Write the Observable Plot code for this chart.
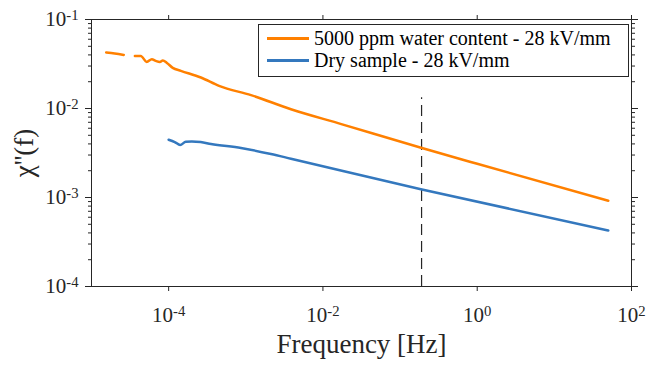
<!DOCTYPE html>
<html><head><meta charset="utf-8">
<script src="https://cdn.jsdelivr.net/npm/d3@7"></script>
<script src="https://cdn.jsdelivr.net/npm/@observablehq/plot@0.6"></script>
<style>
body{margin:0;background:#fff;}
#wrap{position:relative;width:647px;height:369px;font-family:'Liberation Serif',serif;}
#legend{position:absolute;left:258px;top:24px;width:371px;height:53px;border:1px solid #262626;background:#fff;box-sizing:border-box;}
.row{position:absolute;left:0;height:22px;line-height:22px;font-size:20px;color:#000;white-space:nowrap;}
.sw{position:absolute;left:8px;top:10px;width:42px;height:2.5px;}
.lbl{position:absolute;left:55px;top:0;}
</style></head>
<body><div id="wrap"></div>
<script>
// Data
const wetFreq = [1.55e-5, 2.0e-5, 2.62e-5, 3.1e-5, 3.65e-5, 4.35e-5, 5.2e-5, 6.05e-5, 6.8e-5, 7.7e-5, 8.4e-5, 9.5e-5, 1.13e-4, 1.44e-4, 2.62e-4, 4.5e-4, 1.17e-3, 3.85e-3, 1.73e-2, 0.192, 1.0, 50];
const wetChi  = [0.0427, 0.0415, 0.0400, NaN, 0.0390, 0.0390, 0.0334, 0.0358, 0.0343, 0.0334, 0.0347, 0.0325, 0.0286, 0.0265, 0.0223, 0.01795, 0.01413, 0.0098, 0.00668, 0.0036, 0.00239, 0.00092];
const dryFreq = [1.0e-4, 1.2e-4, 1.41e-4, 1.67e-4, 2.0e-4, 2.6e-4, 3.54e-4, 8.67e-4, 2.12e-3, 3.85e-3, 0.192, 50];
const dryChi  = [0.00446, 0.0042, 0.00389, 0.00424, 0.00427, 0.0042, 0.00399, 0.0036, 0.00308, 0.00273, 0.00123, 0.000426];
const markerFreq = [0.19];
const markerChiTop = [0.0132];
const markerChiBottom = [1e-4];
const seriesNames = ["5000 ppm water content - 28 kV/mm", "Dry sample - 28 kV/mm"];
const seriesColors = ["#ff8000", "#3478be"];
const xTicks = [1e-4, 1e-2, 1e0, 1e2];
const yTicks = [1e-4, 1e-3, 1e-2, 1e-1];
const yMinor = [];
for (const d of [1e-4, 1e-3, 1e-2]) for (let k = 2; k <= 9; k++) yMinor.push(k * d);
const xTitle = "Frequency [Hz]";
const yTitle = "\u03c7''(f)";

const wet = wetFreq.map((f, i) => ({f, chi: wetChi[i]}));
const dry = dryFreq.map((f, i) => ({f, chi: dryChi[i]}));
const marker = markerFreq.map((f, i) => ({f, top: markerChiTop[i], bottom: markerChiBottom[i]}));
const fmt = d => `10^${Math.round(Math.log10(d))}`;
const blank = () => "";
const ink = "#262626";
const serif = "'Liberation Serif', serif";

const chart = Plot.plot({
  width: 647, height: 369,
  marginLeft: 91, marginRight: 16, marginTop: 19, marginBottom: 83,
  style: {fontFamily: serif, fontSize: "21px", color: ink, background: "white", overflow: "visible"},
  x: {type: "log", domain: [1e-5, 1e2]},
  y: {type: "log", domain: [1e-4, 1e-1]},
  marks: [
    Plot.ruleX(marker, {x: "f", y1: "bottom", y2: "top", stroke: ink, strokeWidth: 1.2, strokeDasharray: "11,6"}),
    Plot.line(wet, {x: "f", y: "chi", stroke: seriesColors[0], strokeWidth: 2.5, curve: "monotone-x"}),
    Plot.line(dry, {x: "f", y: "chi", stroke: seriesColors[1], strokeWidth: 2.5, curve: "monotone-x"}),
    Plot.frame({stroke: ink}),
    Plot.axisX({anchor: "bottom", ticks: xTicks, tickFormat: fmt, tickSize: 5, tickPadding: 16, label: null, fontFamily: serif, fontSize: 21}),
    Plot.axisX({anchor: "top", ticks: xTicks, tickFormat: blank, tickSize: 5, label: null}),
    Plot.axisY({anchor: "left", ticks: yTicks, tickFormat: fmt, tickSize: 6, tickPadding: 7, label: null, fontFamily: serif, fontSize: 21}),
    Plot.axisY({anchor: "right", ticks: yTicks, tickFormat: blank, tickSize: 6, label: null}),
    Plot.axisY({anchor: "left", ticks: yMinor, tickFormat: blank, tickSize: 3, label: null}),
    Plot.axisY({anchor: "right", ticks: yMinor, tickFormat: blank, tickSize: 3, label: null}),
    Plot.text([xTitle], {frameAnchor: "bottom", dy: 66, text: d => d, fontSize: 27, fill: ink, fontFamily: serif, textAnchor: "middle"}),
    Plot.text([yTitle], {frameAnchor: "left", dx: -67, rotate: -90, text: d => d, fontSize: 27, fill: ink, fontFamily: serif, textAnchor: "middle"})
  ]
});

d3.select(chart).selectAll("text").each(function() {
  const m = /^10\^(-?\d+)$/.exec(this.textContent);
  if (m) {
    const sel = d3.select(this);
    sel.text(null);
    sel.append("tspan").text("10");
    sel.append("tspan").attr("dy", "-0.45em").attr("font-size", "0.7em").text(m[1]);
  }
});

const wrap = document.getElementById("wrap");
wrap.appendChild(chart);

const legend = document.createElement("div");
legend.id = "legend";
const centers = [13, 35];
seriesNames.forEach((name, i) => {
  const row = document.createElement("div");
  row.className = "row";
  row.style.top = (centers[i] - 11) + "px";
  row.style.fontFamily = "'Liberation Serif', serif";
  const sw = document.createElement("span");
  sw.className = "sw";
  sw.style.background = seriesColors[i];
  const lbl = document.createElement("span");
  lbl.className = "lbl";
  lbl.style.fontFamily = "'Liberation Serif', serif";
  lbl.textContent = name;
  row.appendChild(sw);
  row.appendChild(lbl);
  legend.appendChild(row);
});
wrap.appendChild(legend);
</script></body></html>
